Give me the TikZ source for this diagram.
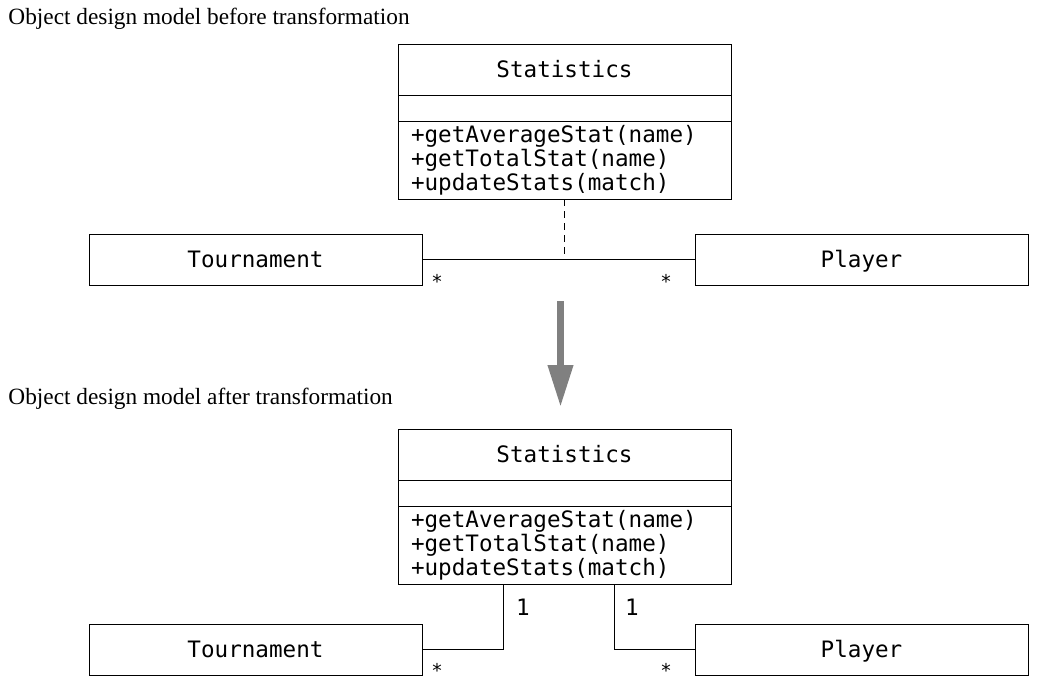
\documentclass[tikz,border=0pt]{standalone}
\usepackage{fontspec}
\setmainfont{Liberation Serif}
\setmonofont{DejaVu Sans Mono}
\usetikzlibrary{arrows.meta, positioning}
\definecolor{arrowgray}{RGB}{128,128,128}

\begin{document}
\begin{tikzpicture}[
        x=1pt, y=-1pt,
        line width=1pt,
        classbox/.style={draw=black, minimum width=333pt, inner sep=0pt, outer sep=0pt, font=\fontsize{22.6}{24}\ttfamily},
        namebox/.style={classbox, minimum height=51pt, text height=18pt, text depth=2pt},
        attrbox/.style={classbox, minimum height=26pt},
        opsbox/.style={classbox, minimum height=78pt, text width=307pt, align=left},
        multlabel/.style={inner sep=0pt, font=\fontsize{22.6}{24}\ttfamily},
        starlabel/.style={inner sep=0pt, font=\fontsize{19}{20}\ttfamily},
        caption/.style={anchor=base west, inner sep=0pt, font=\fontsize{23.3}{26}\selectfont}
        ]
        \useasboundingbox (0,0) rectangle (1042,688);

        %% Before transformation
        \node[caption] (capBefore) at (8,24) {Object design model before transformation};
        \node[namebox] (statName) at (564.5,69.5) {Statistics};
        \node[attrbox, below=0pt of statName] (statAttr) {};
        \node[opsbox, below=0pt of statAttr] (statOps) {+getAverageStat(name)\\+getTotalStat(name)\\+updateStats(match)};
        \node[namebox] (tourn) at (255.5,259.5) {Tournament};
        \node[namebox] (player) at (861.5,259.5) {Player};

        \draw (tourn.east) -- (player.west);
        \coordinate (assocMid) at (statOps.south |- tourn.east);
        \draw[dashed, dash pattern=on 7pt off 5pt] (statOps.south) -- (assocMid);
        \node[starlabel] (tournMult) at (437,281) {*};
        \node[starlabel] (playerMult) at (666,281) {*};

        %% Transformation arrow
        \coordinate (arrowTop) at (560.5,301);
        \coordinate (arrowTip) at (560.5,407);
        \draw[arrowgray, line width=7pt, -{Triangle[width=24pt, length=42pt]}] (arrowTop) -- (arrowTip);

        %% After transformation
        \node[caption] (capAfter) at (8,404) {Object design model after transformation};
        \node[namebox] (statName2) at (564.5,454.5) {Statistics};
        \node[attrbox, below=0pt of statName2] (statAttr2) {};
        \node[opsbox, below=0pt of statAttr2] (statOps2) {+getAverageStat(name)\\+getTotalStat(name)\\+updateStats(match)};
        \node[namebox] (tourn2) at (255.5,649.5) {Tournament};
        \node[namebox] (player2) at (861.5,649.5) {Player};

        \draw (tourn2.east) -| ([xshift=105pt]statOps2.south west);
        \draw (player2.west) -| ([xshift=216pt]statOps2.south west);
        \node[multlabel] (tournOne) at (523,607) {1};
        \node[multlabel] (playerOne) at (632,607) {1};
        \node[starlabel] (tournMult2) at (437,670) {*};
        \node[starlabel] (playerMult2) at (666,670) {*};
\end{tikzpicture}
\end{document}
